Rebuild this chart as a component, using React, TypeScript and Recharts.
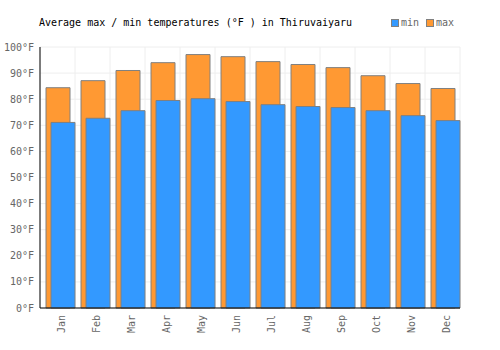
import { BarChart, Bar, XAxis, YAxis, CartesianGrid } from "recharts"

const months = ["Jan", "Feb", "Mar", "Apr", "May", "Jun", "Jul", "Aug", "Sep", "Oct", "Nov", "Dec"]
const minTemps = [71.1, 72.7, 75.6, 79.5, 80.2, 79.1, 77.9, 77.2, 76.8, 75.6, 73.7, 71.8]
const maxTemps = [84.4, 87.1, 91.0, 94.0, 97.1, 96.3, 94.4, 93.3, 92.1, 89.0, 86.0, 84.1]
const yTicks = [0, 10, 20, 30, 40, 50, 60, 70, 80, 90, 100]
const gridTicks = [0, 1, 2, 3, 4, 5, 6, 7, 8, 9, 10, 11, 12]

const FONT = "'DejaVu Sans Mono', monospace"
const MIN_COLOR = "#3399ff"
const MAX_COLOR = "#ff9933"
const EDGE = "#808080"

const data = months.map((m, i) => ({ month: m, i: i + 0.5, min: minTemps[i], max: maxTemps[i] }))

// rotated month labels, reading bottom-to-top
function MonthTick({ x, y, payload }: any) {
  return (
    <text
      x={x}
      y={y}
      transform={`rotate(-90, ${x}, ${y})`}
      textAnchor="end"
      dy={4}
      dx={1}
      fontSize={10}
      fontFamily={FONT}
      fill="#666"
    >
      {payload.value}
    </text>
  )
}

export default function App() {
  return (
    <div style={{ position: "absolute", left: 0, top: 0, width: 500, height: 350, background: "#fff" }}>
      <div
        style={{
          position: "absolute",
          left: 39,
          top: 17,
          fontFamily: FONT,
          fontSize: 10,
          color: "#000",
          whiteSpace: "pre",
        }}
      >
        Average max / min temperatures (°F ) in Thiruvaiyaru
      </div>
      <div
        style={{
          position: "absolute",
          left: 391,
          top: 17,
          display: "flex",
          alignItems: "center",
          fontFamily: FONT,
          fontSize: 10,
          color: "#666",
          whiteSpace: "pre",
        }}
      >
        <span style={{ width: 6, height: 6, background: MIN_COLOR, border: `1px solid ${EDGE}`, marginRight: 2 }} />
        <span style={{ marginRight: 7 }}>min</span>
        <span style={{ width: 6, height: 6, background: MAX_COLOR, border: `1px solid ${EDGE}`, marginRight: 2 }} />
        <span>max</span>
      </div>
      <BarChart
        width={500}
        height={350}
        data={data}
        margin={{ top: 47, right: 40, left: 0, bottom: 0 }}
        barSize={24}
        barGap={-19}
      >
        <CartesianGrid stroke="#eeeeee" xAxisId="grid" />
        <XAxis
          dataKey="month"
          height={42}
          axisLine={{ stroke: "#000" }}
          tickLine={false}
          tick={<MonthTick />}
          interval={0}
          padding={{ left: 3, right: -3 }}
        />
        <XAxis xAxisId="grid" dataKey="i" type="number" domain={[0, 12]} ticks={gridTicks} hide />
        <YAxis
          domain={[0, 100]}
          ticks={yTicks}
          width={40}
          axisLine={{ stroke: "#000" }}
          tickLine={false}
          tickSize={6}
          tickMargin={0}
          tickFormatter={(v) => `${v}°F`}
          tick={{ fontSize: 10, fontFamily: FONT, fill: "#666" }}
          interval={0}
        />
        <Bar dataKey="max" fill={MAX_COLOR} stroke={EDGE} strokeWidth={1} isAnimationActive={false} />
        <Bar dataKey="min" fill={MIN_COLOR} stroke={EDGE} strokeWidth={1} isAnimationActive={false} />
      </BarChart>
    </div>
  )
}
